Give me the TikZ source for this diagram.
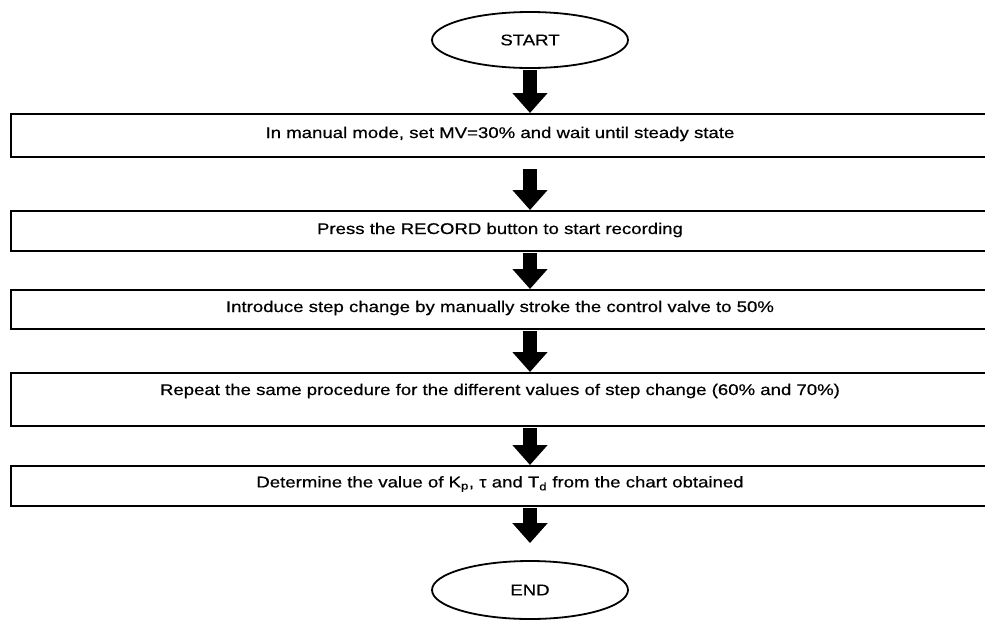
\documentclass[tikz,border=0pt]{standalone}
\usepackage{graphicx}
\usepackage{fontspec}
\setmainfont{Liberation Sans}
\newfontfamily\scanfont{Liberation Sans}[FakeBold=0.5]
\usetikzlibrary{shapes.geometric,arrows.meta}
\newcommand{\wl}[1]{\scalebox{1.2}[1]{#1}}
\tikzset{
  stepbox/.style={draw=black, line width=2.2pt, inner sep=0pt, minimum width=985pt,
    minimum height=#1, anchor=north west},
  lbl/.style={inner sep=0pt, font=\scanfont\fontsize{15.5}{18}\selectfont},
  term/.style={ellipse, draw=black, line width=1.8pt, inner sep=0pt,
    minimum width=196pt, minimum height=56pt, font=\scanfont\fontsize{15.5}{18}\selectfont},
  fat/.style={line width=14pt, -{Triangle[length=20pt,width=34pt]}}
}
\begin{document}
\begin{tikzpicture}[x=1pt,y=-1pt]
\useasboundingbox (0,0) rectangle (985,622);
\clip (0,0) rectangle (985,622);
% terminals
\node[term] (start) at (530,40) {\wl{START}};
\node[term, minimum height=58pt] (end) at (530,590) {\wl{END}};
% boxes
\node[stepbox=43pt] (b1) at (10,113) {};
\node[stepbox=40pt] (b2) at (10,210) {};
\node[stepbox=39pt] (b3) at (10,289) {};
\node[stepbox=53pt] (b4) at (10,372) {};
\node[stepbox=40pt] (b5) at (10,465) {};
% texts
\node[lbl] (t1) at (500,134) {\wl{In manual mode, set MV=30\% and wait until steady state}};
\node[lbl] (t2) at (500,230) {\wl{Press the RECORD button to start recording}};
\node[lbl] (t3) at (500,308) {\wl{Introduce step change by manually stroke the control valve to 50\%}};
\node[lbl] (t4) at (500,391) {\wl{Repeat the same procedure for the different values of step change (60\% and 70\%)}};
\node[lbl] (t5) at (500,484) {\wl{Determine the value of K\textsubscript{p}, τ and T\textsubscript{d} from the chart obtained}};
% connectors
\draw[fat, shorten <=1pt] (start.south) -- (start.south |- b1.north);
\draw[fat, shorten <=11pt] (start.south |- b1.south) -- (start.south |- b2.north);
\draw[fat, shorten <=1pt] (start.south |- b2.south) -- (start.south |- b3.north);
\draw[fat, shorten <=1pt] (start.south |- b3.south) -- (start.south |- b4.north);
\draw[fat, shorten <=1pt] (start.south |- b4.south) -- (start.south |- b5.north);
\draw[fat, shorten <=1pt, shorten >=17pt] (start.south |- b5.south) -- (end.north);
\end{tikzpicture}
\end{document}
